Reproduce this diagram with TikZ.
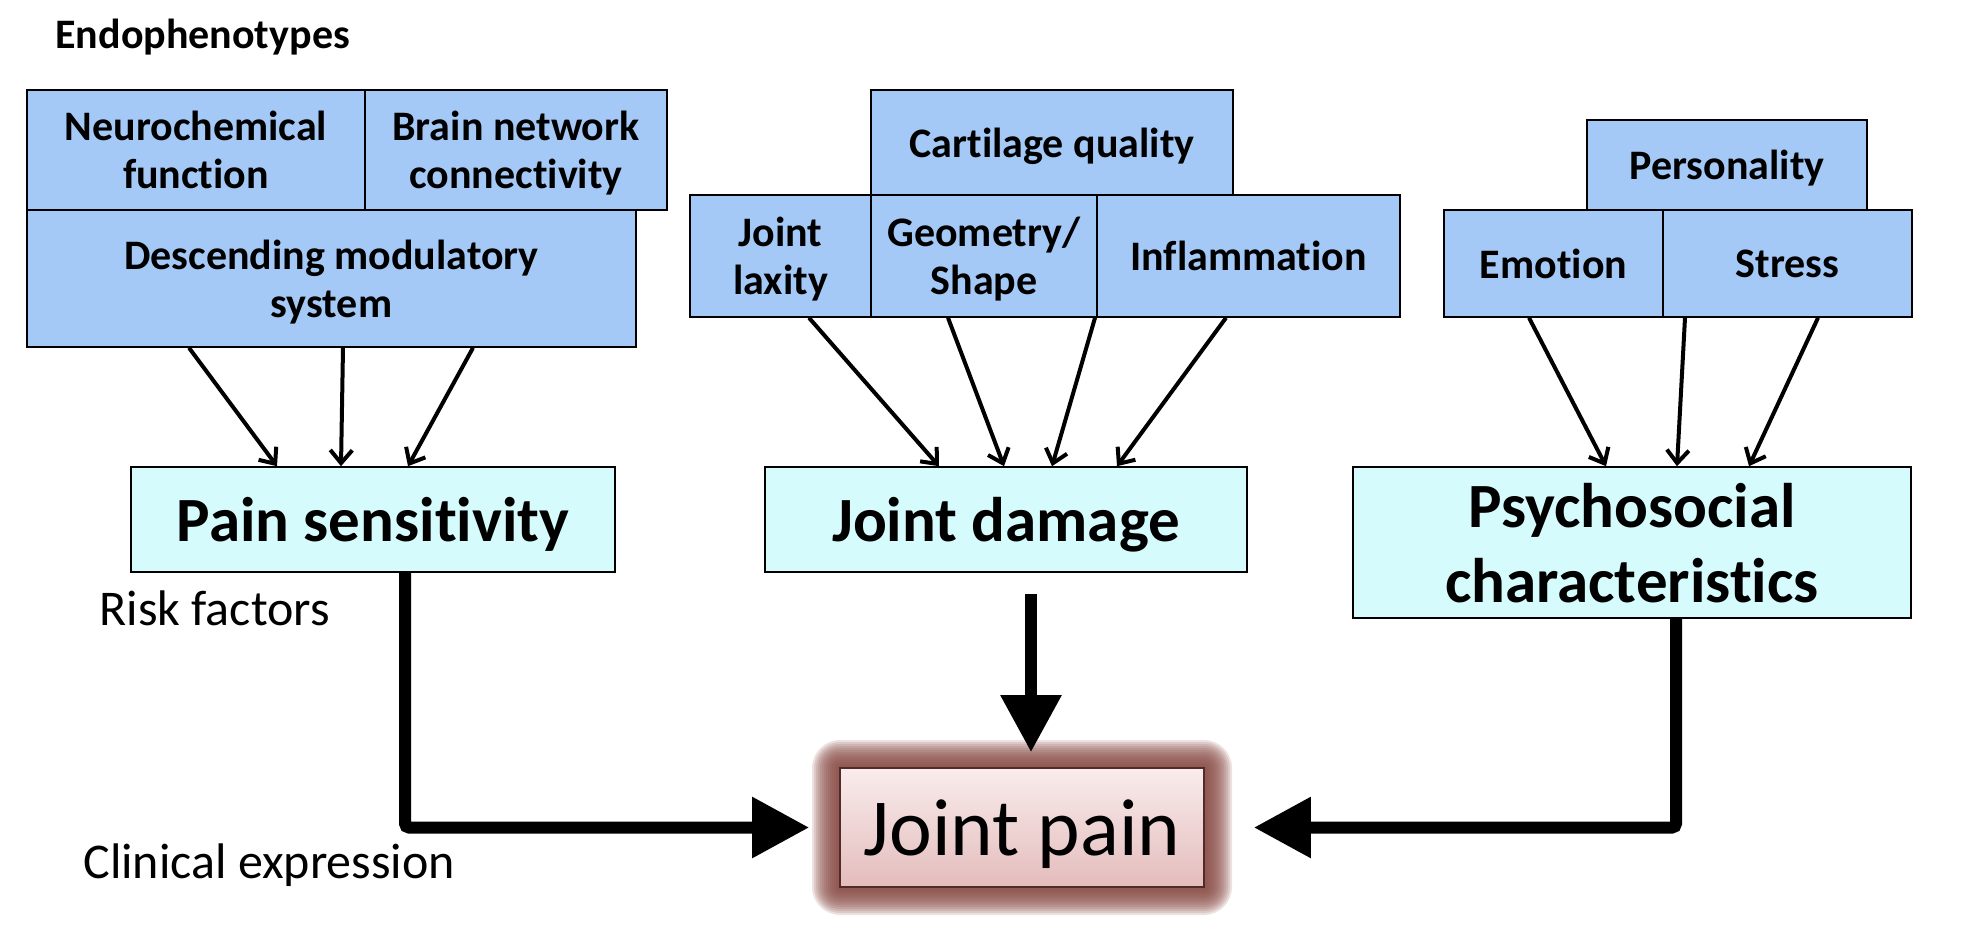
\documentclass[tikz,border=0pt]{standalone}
\usepackage{fontspec}
\setmainfont{Carlito}[Ligatures={NoCommon,NoContextual}, Contextuals=NoAlternate]
\usetikzlibrary{arrows.meta}
\definecolor{topblue}{RGB}{164,201,246}
\definecolor{riskcyan}{RGB}{214,251,252}
\definecolor{glowred}{RGB}{135,72,66}
\definecolor{pinklight}{RGB}{249,236,236}
\definecolor{pinkdark}{RGB}{228,188,188}

\begin{document}
\begin{tikzpicture}[x=0.5pt, y=-0.5pt,
    endobox/.style={draw, line width=0.8pt, fill=topblue, align=center, inner sep=0pt,
        text depth=0pt, font=\bfseries\fontsize{21}{24}\selectfont},
    riskbox/.style={draw, line width=0.8pt, fill=riskcyan, align=center, inner sep=0pt,
        text depth=0pt, font=\bfseries\fontsize{31.5}{37.5}\selectfont},
    labeltext/.style={anchor=base west, inner sep=0pt, font=\fontsize{25}{30}\selectfont},
    thinarrow/.style={line width=2pt, -{Straight Barb[length=6.5pt,width=11pt,line width=2pt]}},
    bigarrow/.style={line width=6pt, rounded corners=2pt, -{Triangle[length=28.5pt,width=29pt]}}
]
    \useasboundingbox (0,0) rectangle (1964,936);

    % endophenotypes
    \node[anchor=base west, inner sep=0pt, font=\bfseries\fontsize{21}{24}\selectfont] (endotitle) at (55,49) {Endophenotypes};
    \node[endobox, minimum width=169pt, minimum height=60pt] (neuro) at (196,150) {Neurochemical\\function};
    \node[endobox, minimum width=151pt, minimum height=60pt] (brain) at (516,150) {Brain network\\connectivity};
    \node[endobox, minimum width=304.5pt, minimum height=68.5pt] (desc) at (331.5,278.5) {Descending modulatory\\system};

    \node[endobox, minimum width=181pt, minimum height=52.5pt] (cart) at (1052,142.5) {Cartilage quality};
    \node[endobox, minimum width=90.5pt, minimum height=61pt] (laxity) at (780.5,256) {Joint\\laxity};
    \node[endobox, minimum width=113pt, minimum height=61pt] (geom) at (984,256) {Geometry/\\Shape};
    \node[endobox, minimum width=151.5pt, minimum height=61pt] (infl) at (1248.5,256) {Inflammation};

    \node[endobox, minimum width=140pt, minimum height=45pt] (pers) at (1727,165) {Personality};
    \node[endobox, minimum width=109.5pt, minimum height=53.5pt] (emot) at (1553.5,263.5) {Emotion};
    \node[endobox, minimum width=124.5pt, minimum height=53.5pt] (stress) at (1787.5,263.5) {Stress};

    % risk factors
    \node[riskbox, minimum width=242pt, minimum height=52.5pt] (pain) at (373,519.5) {Pain sensitivity};
    \node[riskbox, minimum width=241pt, minimum height=52.5pt] (damage) at (1006,519.5) {Joint damage};
    \node[riskbox, minimum width=279pt, minimum height=75.5pt] (psycho) at (1632,542.5) {Psychosocial\\characteristics};

    \node[labeltext] (risklabel) at (99,625) {Risk factors};
    \node[labeltext] (cliniclabel) at (83,878) {Clinical expression};

    % clinical expression, with its glow
    \foreach \g in {1,...,14} {
        \fill[glowred, opacity=0.16, rounded corners=\g pt] (840-2*\g, 768-2*\g) rectangle (1204+2*\g, 887+2*\g);
    }
    \node[draw=glowred!60!black, line width=0.8pt, top color=pinklight, bottom color=pinkdark,
        minimum width=182pt, minimum height=59.5pt, inner sep=0pt, text depth=0pt,
        font=\fontsize{40.5}{48}\selectfont] (jpain) at (1022,827.5) {Joint pain};

    % arrows
    \foreach \s/\t in {-71.25/-48, 5.75/-16, 70.75/17.5}
        \draw[thinarrow] ([xshift=\s pt]desc.south) -- ([xshift=\t pt]pain.north);
    \foreach \a/\s/\t in {laxity/14.25/-33.5, geom/-18/-1, geom/55.5/23, infl/-11.25/55.5}
        \draw[thinarrow] ([xshift=\s pt]\a.south) -- ([xshift=\t pt]damage.north);
    \foreach \a/\s/\t in {emot/-12.25/-13, stress/-51.25/22.5, stress/15.25/58.5}
        \draw[thinarrow] ([xshift=\s pt]\a.south) -- ([xshift=\t pt]psycho.north);

    \coordinate (dtop) at ([xshift=12.5pt,yshift=-10.5pt]damage.south);
    \coordinate (dtip) at ([xshift=4.5pt,yshift=7.5pt]jpain.north);
    \draw[bigarrow] ([xshift=16pt]pain.south) |- ([xshift=-15pt]jpain.west);
    \draw[bigarrow] (dtop) -- (dtip);
    \draw[bigarrow] ([xshift=22pt]psycho.south) |- ([xshift=24.5pt]jpain.east);
\end{tikzpicture}
\end{document}
